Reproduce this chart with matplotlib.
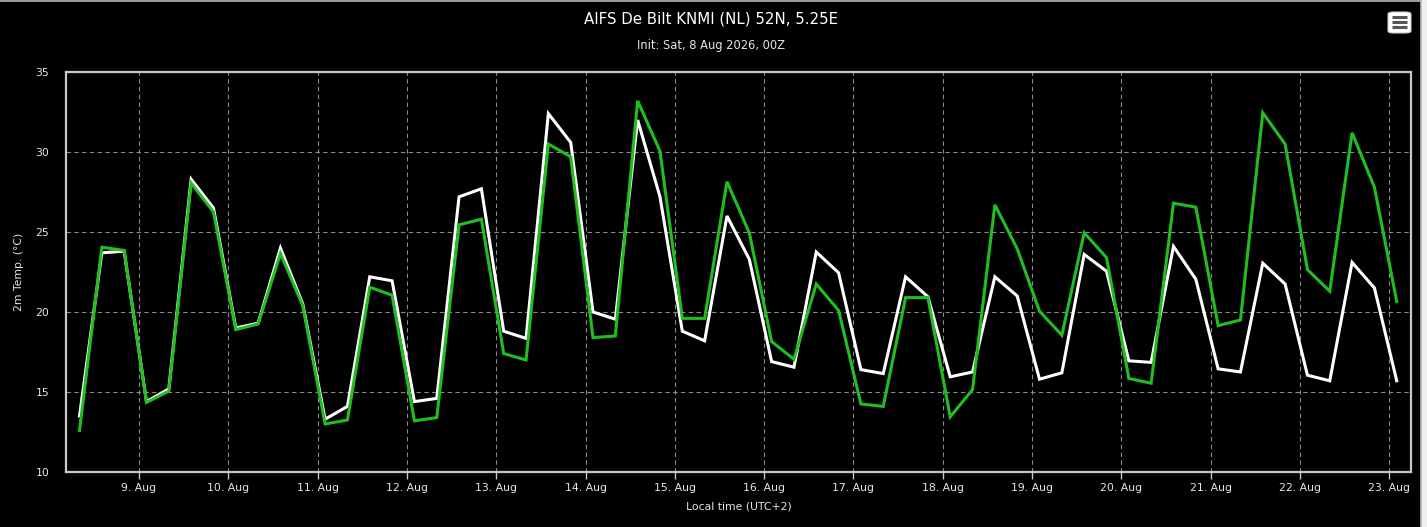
import matplotlib
matplotlib.use("Agg")
import matplotlib.pyplot as plt
import matplotlib.dates as mdates
from matplotlib.patches import FancyBboxPatch, Rectangle
from matplotlib.lines import Line2D
import pandas as pd

# ---- data ----
times = pd.date_range("2026-08-08 08:00", periods=60, freq="6h")
white_series = [13.5, 23.7, 23.8, 14.4, 15.2, 28.3, 26.5, 19.0, 19.3, 24.0,
                20.5, 13.3, 14.1, 22.2, 21.95, 14.4, 14.6, 27.2, 27.7, 18.8,
                18.35, 32.4, 30.6, 20.0, 19.55, 32.0, 27.2, 18.8, 18.2, 26.0,
                23.3, 16.9, 16.55, 23.75, 22.45, 16.4, 16.15, 22.2, 20.95, 15.95,
                16.25, 22.2, 21.0, 15.8, 16.2, 23.6, 22.55, 16.95, 16.85, 24.1,
                22.05, 16.45, 16.25, 23.05, 21.75, 16.05, 15.7, 23.1, 21.5, 15.7]
green_series = [12.6, 24.05, 23.85, 14.35, 15.05, 28.05, 26.25, 18.9, 19.25, 23.65,
                20.4, 13.0, 13.25, 21.55, 21.05, 13.2, 13.4, 25.45, 25.8, 17.4,
                17.0, 30.5, 29.7, 18.4, 18.5, 33.2, 30.05, 19.6, 19.6, 28.15,
                24.95, 18.15, 17.05, 21.75, 20.1, 14.25, 14.1, 20.9, 20.9, 13.45,
                15.15, 26.7, 23.95, 20.05, 18.55, 24.95, 23.4, 15.85, 15.55, 26.8,
                26.55, 19.15, 19.5, 32.45, 30.5, 22.65, 21.3, 31.2, 27.8, 20.65]
y_ticks = [10, 15, 20, 25, 30, 35]
title_text = "AIFS De Bilt KNMI (NL) 52N, 5.25E"
subtitle_text = "Init: Sat, 8 Aug 2026, 00Z"
ylabel_text = "2m Temp. (°C)"
xlabel_text = "Local time (UTC+2)"

W, H = 1427, 527
fig = plt.figure(figsize=(W / 100, H / 100), dpi=100)
fig.patch.set_facecolor("black")

# container right strip and border
fig.add_artist(Rectangle((1421 / W, 0), 1 - 1421 / W, 1, transform=fig.transFigure,
                         facecolor="#f0f0f0", edgecolor="none", zorder=0))
fig.add_artist(Line2D([0, 1421 / W], [1 - 1 / H, 1 - 1 / H], transform=fig.transFigure,
                      color="#bbbbbb", lw=1.2))
fig.add_artist(Line2D([1420.5 / W, 1420.5 / W], [0, 1], transform=fig.transFigure,
                      color="#bbbbbb", lw=1.2))

ax = fig.add_axes([66 / W, 1 - 472 / H, (1411 - 66) / W, (472 - 72) / H])
ax.set_facecolor("black")

ax.plot(times, white_series, color="white", lw=2.2, zorder=3, solid_joinstyle="miter")
ax.plot(times, green_series, color="#1fbf1f", lw=2.2, zorder=4, solid_joinstyle="miter")

ax.set_ylim(10, 35)
ax.set_yticks(y_ticks)
x0 = pd.Timestamp("2026-08-08 04:22")
x1 = pd.Timestamp("2026-08-23 05:50")
ax.set_xlim(x0, x1)
ax.xaxis.set_major_locator(mdates.DayLocator())
ax.xaxis.set_major_formatter(mdates.DateFormatter("%-d. %b"))

ax.grid(True, color="#8a8a8a", lw=0.8, linestyle=(0, (4, 3)))
ax.set_axisbelow(True)
for s in ax.spines.values():
    s.set_color("#c8c8c8")
    s.set_linewidth(1.6)

ax.tick_params(axis="y", length=0, pad=12, labelcolor="#e6e6e6", labelsize=7.8)
ax.tick_params(axis="x", length=5, width=1, color="#c8c8c8", pad=3,
               labelcolor="#e6e6e6", labelsize=7.8)

ax.set_ylabel(ylabel_text, color="#e6e6e6", fontsize=7.8, labelpad=8)
ax.set_xlabel(xlabel_text, color="#e6e6e6", fontsize=7.8, labelpad=6)

fig.text(711 / W, 1 - 19 / H, title_text, color="white", fontsize=10.8,
         ha="center", va="center")
fig.text(711 / W, 1 - 46 / H, subtitle_text, color="#e6e6e6", fontsize=8.3,
         ha="center", va="center")

# menu icon
fig.add_artist(FancyBboxPatch((1388 / W, 1 - 33 / H), 23 / W, 21 / H,
                              boxstyle="round,pad=0,rounding_size=0.004",
                              transform=fig.transFigure, facecolor="white",
                              edgecolor="#cccccc", lw=0.8))
for yy in (17, 22, 27):
    fig.add_artist(Line2D([1392 / W, 1407 / W], [1 - yy / H, 1 - yy / H],
                          transform=fig.transFigure, color="#555555", lw=2.2,
                          solid_capstyle="butt"))

fig.savefig("out.png", dpi=100, facecolor=fig.get_facecolor())
